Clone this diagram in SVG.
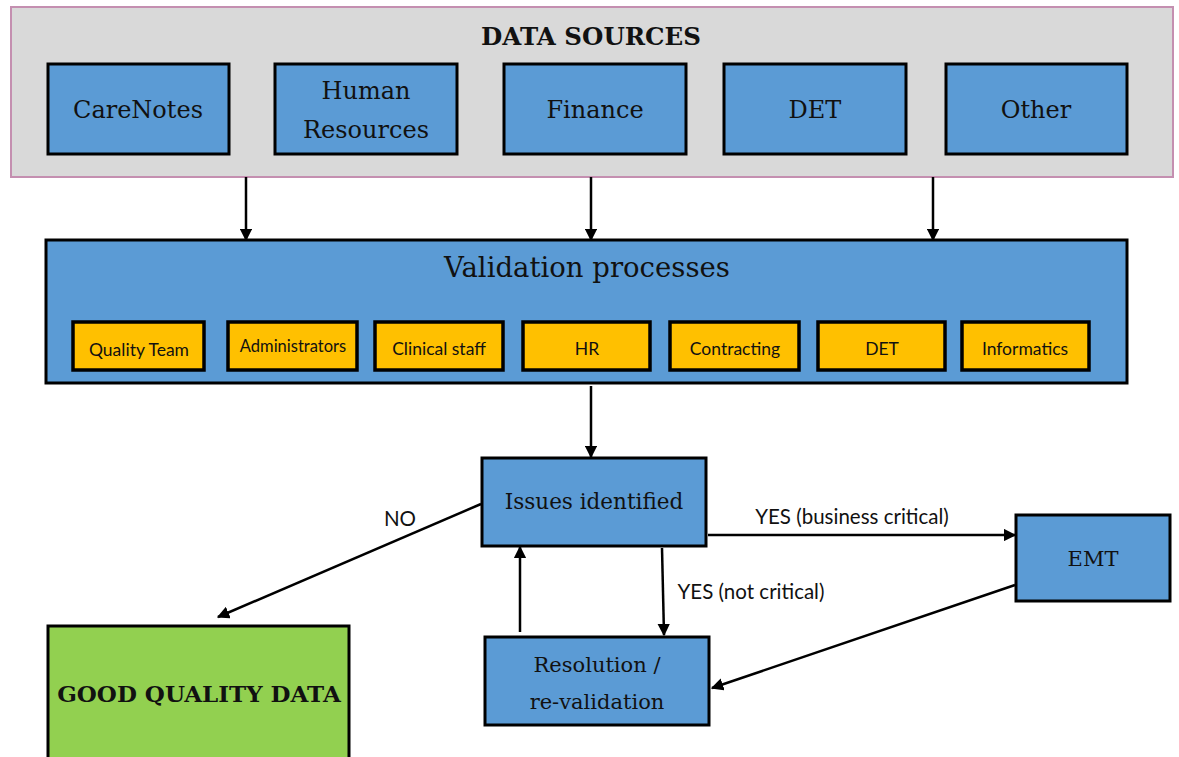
<svg xmlns="http://www.w3.org/2000/svg" width="1179" height="757" viewBox="0 0 1179 757">
<defs>
<style>
.blue{fill:#5b9bd5;stroke:#000;stroke-width:3}
.yel{fill:#ffc000;stroke:#000;stroke-width:3.5}
.ser{font-family:"DejaVu Serif","Liberation Serif",serif;fill:#111;text-anchor:middle}
.big{font-size:24px}
.sm{font-family:"Lato","Open Sans",sans-serif;font-size:17.5px;fill:#111;text-anchor:middle}
.lab{font-family:"Lato","Open Sans",sans-serif;font-size:20.5px;fill:#111;text-anchor:middle}
.con{stroke:#000;stroke-width:2.5;fill:none;marker-end:url(#ah)}
</style>
<marker id="ah" viewBox="0 0 10 10" refX="9" refY="5" markerWidth="5" markerHeight="5" orient="auto" markerUnits="strokeWidth">
<path d="M0,0 L10,5 L0,10 z" fill="#000"/>
</marker>
</defs>
<rect width="1179" height="757" fill="#fff"/>
<g id="data-sources">
<rect x="11" y="7" width="1162" height="170" fill="#d9d9d9" stroke="#c48fb0" stroke-width="2"/>
<text class="ser" x="591" y="45" font-size="24.5" font-weight="bold">DATA SOURCES</text>
</g>
<g id="carenotes"><rect class="blue" x="48" y="64" width="181" height="90"/><text class="ser big" x="138" y="118">CareNotes</text></g>
<g id="hr-src"><rect class="blue" x="275" y="64" width="182" height="90"/><text class="ser big" x="366" y="99">Human</text><text class="ser big" x="366" y="138">Resources</text></g>
<g id="finance"><rect class="blue" x="504" y="64" width="182" height="90"/><text class="ser big" x="595" y="118">Finance</text></g>
<g id="det-src"><rect class="blue" x="724" y="64" width="182" height="90"/><text class="ser big" x="815" y="118">DET</text></g>
<g id="other"><rect class="blue" x="946" y="64" width="181" height="90"/><text class="ser big" x="1036" y="118">Other</text></g>
<g id="validation">
<rect class="blue" x="46" y="240" width="1081" height="143"/>
<text class="ser" x="587" y="277" font-size="27.5">Validation processes</text>
</g>
<g id="quality-team"><rect class="yel" x="73" y="322" width="131" height="48"/><text class="sm" x="139" y="356">Quality Team</text></g>
<g id="administrators"><rect class="yel" x="228" y="322" width="129" height="48"/><text class="sm" x="293" y="352" style="font-size:16.5px">Administrators</text></g>
<g id="clinical-staff"><rect class="yel" x="375" y="322" width="128" height="48"/><text class="sm" x="439" y="355">Clinical staff</text></g>
<g id="hr"><rect class="yel" x="523" y="322" width="127" height="48"/><text class="sm" x="587" y="355">HR</text></g>
<g id="contracting"><rect class="yel" x="670" y="322" width="129" height="48"/><text class="sm" x="735" y="355">Contracting</text></g>
<g id="det"><rect class="yel" x="818" y="322" width="127" height="48"/><text class="sm" x="882" y="355">DET</text></g>
<g id="informatics"><rect class="yel" x="962" y="322" width="127" height="48"/><text class="sm" x="1025" y="355">Informatics</text></g>
<g id="issues"><rect class="blue" x="482" y="458" width="224" height="88"/><text class="ser" x="594" y="509" font-size="21.5">Issues identified</text></g>
<g id="good-data"><rect x="48" y="626" width="301" height="140" fill="#92d050" stroke="#000" stroke-width="3"/><text class="ser" x="199" y="702" font-size="23" font-weight="bold">GOOD QUALITY DATA</text></g>
<g id="emt"><rect class="blue" x="1016" y="515" width="154" height="86"/><text class="ser" x="1093" y="566" font-size="21">EMT</text></g>
<g id="resolution"><rect class="blue" x="485" y="637" width="224" height="88"/><text class="ser" x="597" y="672" font-size="21">Resolution /</text><text class="ser" x="597" y="709" font-size="21">re-validation</text></g>
<g id="connectors">
<line class="con" x1="246" y1="177" x2="246" y2="240"/>
<line class="con" x1="591" y1="177" x2="591" y2="240"/>
<line class="con" x1="933" y1="177" x2="933" y2="240"/>
<line class="con" x1="591" y1="386" x2="591" y2="457"/>
<line class="con" x1="481" y1="504" x2="218" y2="617"/>
<line class="con" x1="708" y1="535" x2="1015" y2="535"/>
<line class="con" x1="1015" y1="585" x2="712" y2="688"/>
<line class="con" x1="520" y1="632" x2="520" y2="547"/>
<line class="con" x1="662" y1="548" x2="664" y2="635"/>
<text class="lab" x="400" y="526">NO</text>
<text class="lab" x="852" y="524">YES (business critical)</text>
<text class="lab" x="751" y="599">YES (not critical)</text>
</g>
</svg>
